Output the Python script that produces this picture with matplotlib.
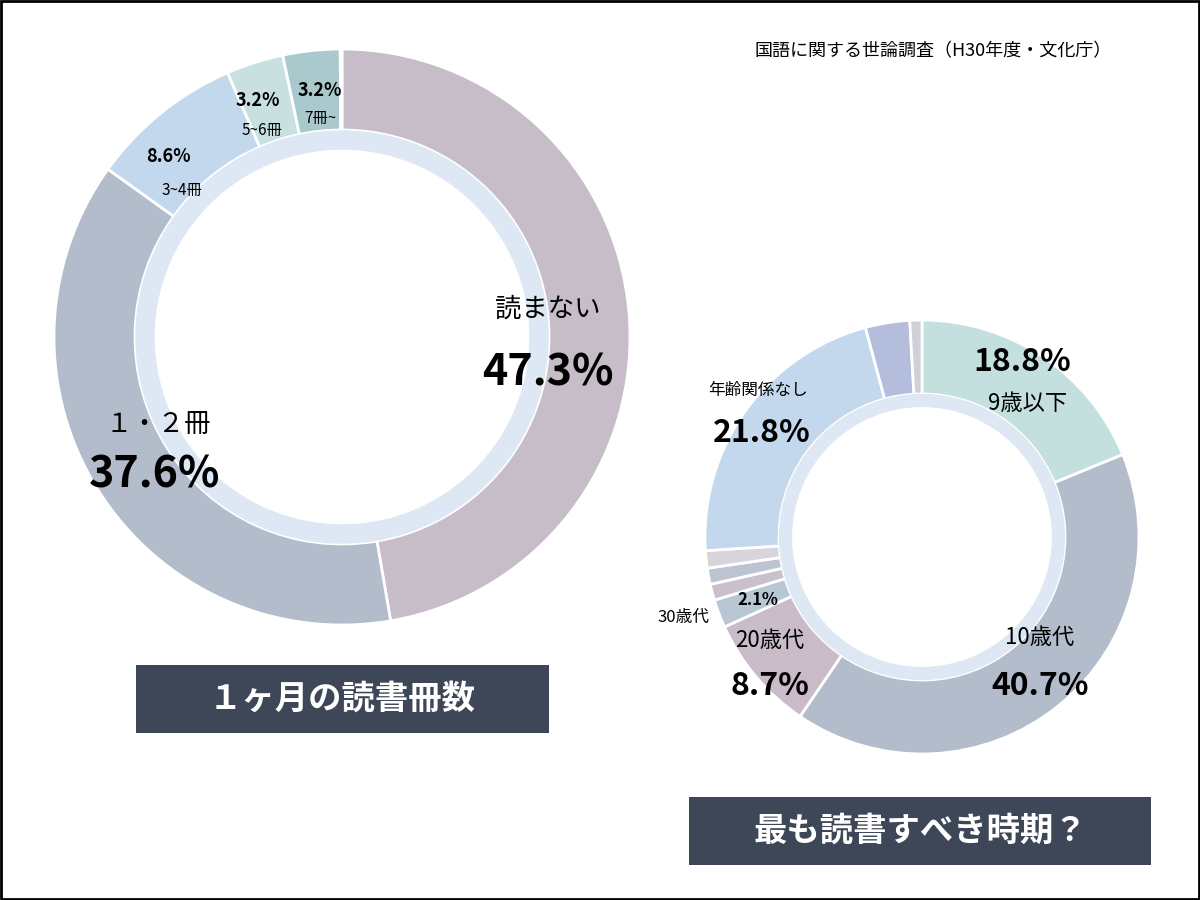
import matplotlib.pyplot as plt
from matplotlib.patches import Circle, Rectangle

plt.rcParams['font.family'] = ['Noto Sans CJK JP', 'DejaVu Sans']

# 1ヶ月の読書冊数
books_labels = ["読まない", "1・2冊", "3~4冊", "5~6冊", "7冊~", "不明"]
books_values = [47.3, 37.6, 8.6, 3.2, 3.2, 0.1]
books_colors = ["#c6bdc9", "#b3bccb", "#c3d8ec", "#c9e0e1", "#a9c9cd", "#888888"]

# 最も読書すべき時期
period_labels = ["9歳以下", "10歳代", "20歳代", "30歳代", "40歳代", "50歳代", "60歳以上",
                 "年齢関係なし", "わからない", "その他"]
period_values = [18.8, 40.7, 8.7, 2.1, 1.2, 1.2, 1.3, 21.8, 3.3, 0.9]
period_colors = ["#c3e0de", "#b3bccb", "#c9bcc8", "#b9c6d4", "#c9c0cc", "#bcc4d2",
                 "#d8d4dc", "#c3d8ec", "#b5bddc", "#d0d0d8"]

fig = plt.figure(figsize=(12, 9), dpi=100)
ax = fig.add_axes([0, 0, 1, 1])


def donut(cx, cy, r, width, values, colors, band_r, band_w):
    # y-axis is inverted: startangle=-90 points up on screen, counterclock=True runs clockwise
    ax.pie(values, colors=colors, center=(cx, cy), radius=r, startangle=-90,
           counterclock=True, wedgeprops=dict(width=width, edgecolor='white', linewidth=2),
           frame=True)
    ax.add_patch(Circle((cx, cy), band_r, fc='none', ec='#dde8f4', lw=band_w))


donut(342, 337, 288, 81, books_values, books_colors, 197, 14)
donut(922, 537, 217, 74, period_values, period_colors, 136.5, 9.5)

ax.set_xlim(0, 1200)
ax.set_ylim(900, 0)
ax.set_aspect('equal')
ax.axis('off')
ax.add_patch(Rectangle((1, 1), 1198, 898, fill=False, ec='black', lw=2))

t = dict(ha='center', va='center', color='black')
ax.text(548, 309, "読まない", fontsize=19, **t)
ax.text(548, 372, "47.3%", fontsize=31, fontweight='bold', **t)
ax.text(158, 424, "１・２冊", fontsize=19, **t)
ax.text(155, 475, "37.6%", fontsize=31, fontweight='bold', **t)
ax.text(168, 156, "8.6%", fontsize=13, fontweight='bold', **t)
ax.text(182, 190, "3~4冊", fontsize=11, **t)
ax.text(258, 100, "3.2%", fontsize=13, fontweight='bold', **t)
ax.text(262, 131, "5~6冊", fontsize=11, **t)
ax.text(320, 90, "3.2%", fontsize=13, fontweight='bold', **t)
ax.text(320, 118, "7冊~", fontsize=11, **t)

ax.text(1022, 362, "18.8%", fontsize=23, fontweight='bold', **t)
ax.text(1028, 404, "9歳以下", fontsize=16, **t)
ax.text(1040, 637, "10歳代", fontsize=16, **t)
ax.text(1040, 686, "40.7%", fontsize=23, fontweight='bold', **t)
ax.text(770, 640, "20歳代", fontsize=16, **t)
ax.text(770, 686, "8.7%", fontsize=23, fontweight='bold', **t)
ax.text(758, 600, "2.1%", fontsize=12, fontweight='bold', **t)
ax.text(683, 617, "30歳代", fontsize=12, **t)
ax.text(758, 390, "年齢関係なし", fontsize=12, **t)
ax.text(762, 433, "21.8%", fontsize=23, fontweight='bold', **t)

ax.text(933, 51, "国語に関する世論調査（H30年度・文化庁）", fontsize=13, **t)

ax.add_patch(Rectangle((136, 665), 413, 68, fc='#3e4757', ec='none'))
ax.text(342, 699, "１ヶ月の読書冊数", fontsize=24, fontweight='bold', ha='center', va='center', color='white')
ax.add_patch(Rectangle((689, 797), 462, 68, fc='#3e4757', ec='none'))
ax.text(920, 831, "最も読書すべき時期？", fontsize=24, fontweight='bold', ha='center', va='center', color='white')

fig.savefig("out.png", dpi=100, facecolor='white')
